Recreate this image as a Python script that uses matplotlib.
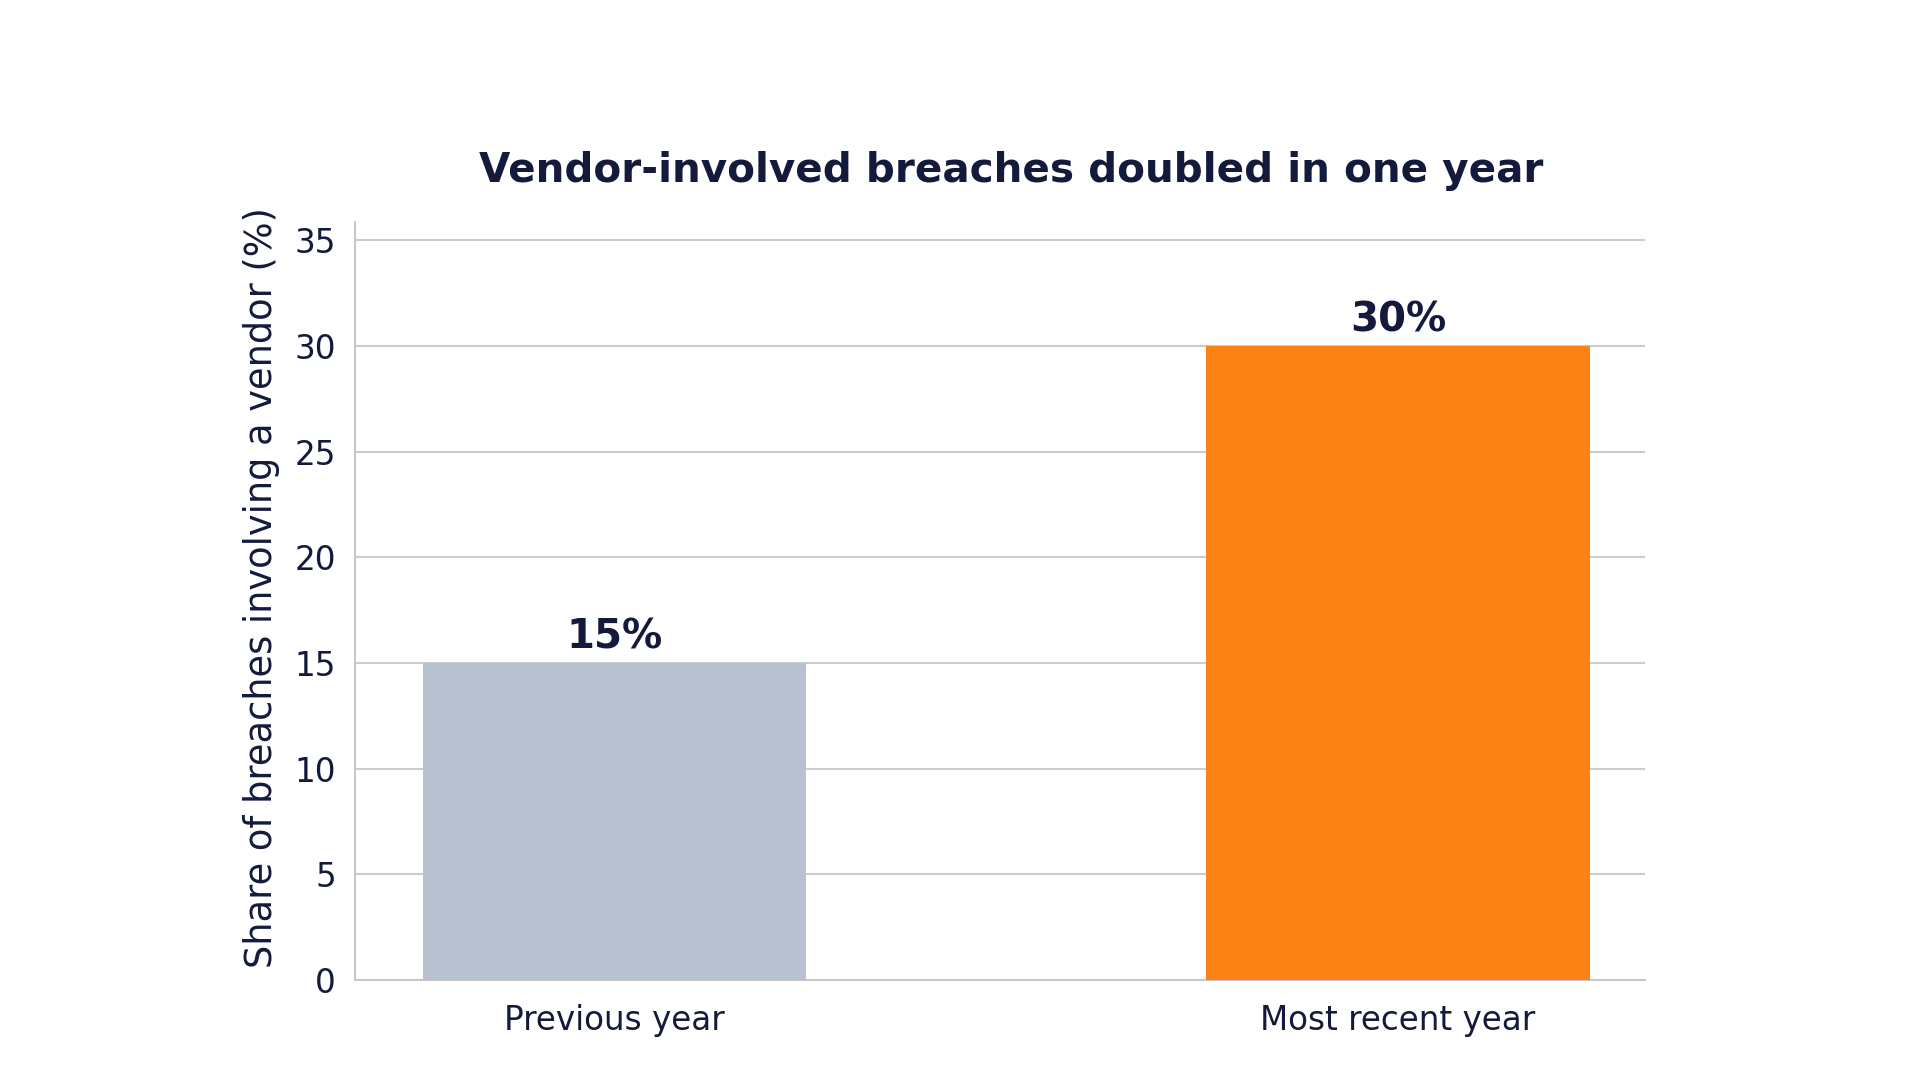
import matplotlib
matplotlib.use("Agg")
import matplotlib.pyplot as plt

categories = ["Previous year", "Most recent year"]
values = [15, 30]
value_labels = ["15%", "30%"]
bar_colors = ["#b7c1cf", "#fd8216"]
yticks = [0, 5, 10, 15, 20, 25, 30, 35]

title = "Vendor-involved breaches doubled in one year"
ylabel = "Share of breaches involving a vendor (%)"

navy = "#141a3c"
plt.rcParams['font.family'] = ['DejaVu Sans']

fig = plt.figure(figsize=(19.2, 10.8), dpi=100)
ax = fig.add_axes([0.185, 0.0926, 0.672, 0.7014])

x = list(range(len(categories)))
bars = ax.bar(x, values, width=0.49, color=bar_colors, zorder=3)
for xi, v, lab in zip(x, values, value_labels):
    ax.annotate(lab, (xi, v), xytext=(0, 4), textcoords="offset points",
                ha="center", va="bottom", fontsize=29, fontweight="bold", color=navy)

ax.set_xlim(-0.331, 1.316)
ax.set_ylim(0, 35.85)
ax.set_yticks(yticks)
ax.set_xticks(x)
ax.set_xticklabels(categories)
ax.tick_params(axis="y", labelsize=23.5, colors=navy, length=0, pad=14)
ax.tick_params(axis="x", labelsize=23.5, colors=navy, length=0, pad=17)
ax.yaxis.grid(True, color="#cccccc", linewidth=1.5, zorder=0)
for s in ["top", "right"]:
    ax.spines[s].set_visible(False)
for s in ["left", "bottom"]:
    ax.spines[s].set_color("#c8c8c8")
    ax.spines[s].set_linewidth(1.5)

ax.set_ylabel(ylabel, fontsize=26.5, color=navy, labelpad=12)
ax.yaxis.set_label_coords(-0.058, 0.518)
fig.text(0.5265, 1 - 171 / 1080, title, ha="center", va="center",
         fontsize=29.2, fontweight="bold", color=navy)

fig.savefig("out.png", dpi=100, facecolor="white")
